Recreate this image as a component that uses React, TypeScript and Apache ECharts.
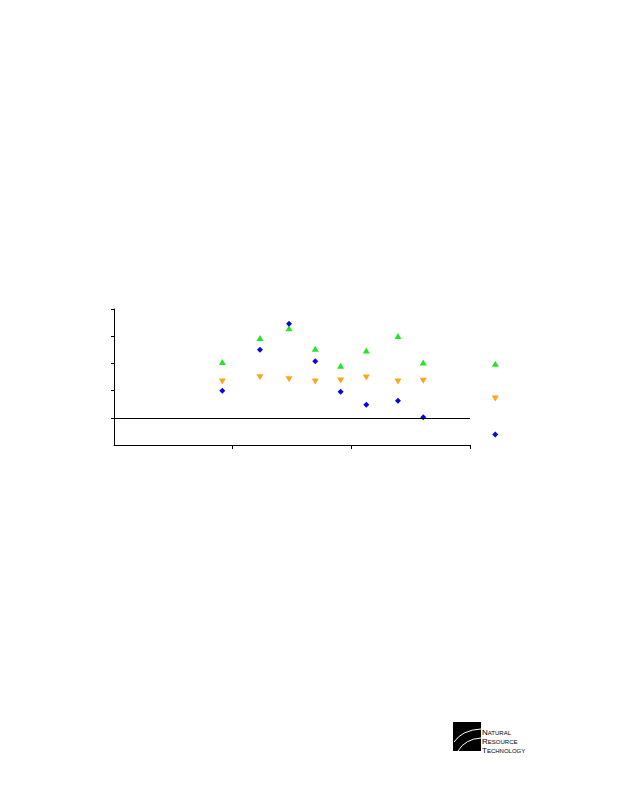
import React, { useEffect, useRef } from "react";
import * as echarts from "echarts";

const xValues = [0.913, 1.23, 1.475, 1.696, 1.91, 2.126, 2.393, 2.606, 3.213];
const blueValues = [0.99, 2.5, 3.46, 2.08, 0.96, 0.48, 0.63, 0.02, -0.61];
const greenValues = [2.05, 2.93, 3.29, 2.54, 1.91, 2.47, 3.01, 2.03, 1.99];
const orangeValues = [1.33, 1.49, 1.42, 1.33, 1.37, 1.48, 1.33, 1.36, 0.71];
const xTicks = [1, 2, 3];
const yTicks = [0, 1, 2, 3, 4];
const logoLines = [
  ["N", "ATURAL"],
  ["R", "ESOURCE"],
  ["T", "ECHNOLOGY"],
];

const pairs = (ys: number[]) => xValues.map((x, i) => [x, ys[i]]);

export default function App() {
  const ref = useRef<HTMLDivElement>(null);
  useEffect(() => {
    if (!ref.current) return;
    const chart = echarts.init(ref.current, null, { renderer: "svg" });
    const bigWidths: Record<string, number> = { N: 5.8, R: 5.8, T: 4.9 };
    const logoTexts: any[] = [];
    logoLines.forEach(([big, small], i) => {
      const y = 733 + i * 9;
      logoTexts.push({
        type: "text",
        x: 482,
        y: y - 0.7,
        style: { text: big, fontSize: 8, fontFamily: "Liberation Sans", fill: "#000", verticalAlign: "middle", align: "left" },
      });
      logoTexts.push({
        type: "text",
        x: 482 + bigWidths[big],
        y,
        style: { text: small, fontSize: 6, fontFamily: "Liberation Sans", fill: "#000", verticalAlign: "middle", align: "left" },
      });
    });
    chart.setOption({
      animation: false,
      backgroundColor: "#fff",
      grid: { left: 114, right: 148, top: 309, bottom: 355 },
      xAxis: {
        type: "value",
        min: 0,
        max: 3,
        interval: 1,
        axisLine: { show: true, onZero: false, lineStyle: { color: "#000", width: 1 } },
        axisTick: { show: true, length: 4, customValues: xTicks, lineStyle: { color: "#000" } },
        axisLabel: { show: false },
        splitLine: { show: false },
      },
      yAxis: {
        type: "value",
        min: -1,
        max: 4,
        interval: 1,
        axisLine: { show: true, onZero: false, lineStyle: { color: "#000", width: 1 } },
        axisTick: { show: true, length: 3, customValues: yTicks, lineStyle: { color: "#000" } },
        axisLabel: { show: false },
        splitLine: { show: false },
      },
      series: [
        {
          type: "scatter",
          clip: false,
          symbol: "triangle",
          symbolSize: [7, 6],
          itemStyle: { color: "#22e622", opacity: 1 },
          data: pairs(greenValues),
        },
        {
          type: "scatter",
          clip: false,
          symbol: "triangle",
          symbolRotate: 180,
          symbolSize: [7, 6],
          itemStyle: { color: "#fba51a", opacity: 1 },
          data: pairs(orangeValues),
        },
        {
          type: "scatter",
          clip: false,
          symbol: "diamond",
          symbolSize: [6, 6],
          itemStyle: { color: "#0808dc", opacity: 1 },
          data: pairs(blueValues),
          markLine: {
            silent: true,
            symbol: "none",
            label: { show: false },
            lineStyle: { color: "#000", width: 1, type: "solid" },
            data: [{ yAxis: 0 }],
          },
        },
      ],
      graphic: [
        { type: "rect", shape: { x: 453, y: 722, width: 28, height: 29 }, style: { fill: "#000" } },
        {
          type: "bezierCurve",
          shape: { x1: 454, y1: 742, cpx1: 462, cpy1: 730, x2: 481, y2: 729 },
          style: { stroke: "#fff", lineWidth: 1, fill: "none" },
        },
        {
          type: "bezierCurve",
          shape: { x1: 458, y1: 751, cpx1: 465, cpy1: 739, x2: 481, y2: 738 },
          style: { stroke: "#fff", lineWidth: 1, fill: "none" },
        },
        ...logoTexts,
      ],
    });
    return () => chart.dispose();
  }, []);
  return (
    <div
      ref={ref}
      style={{ position: "fixed", left: 0, top: 0, width: 618, height: 800, background: "#fff" }}
    />
  );
}
